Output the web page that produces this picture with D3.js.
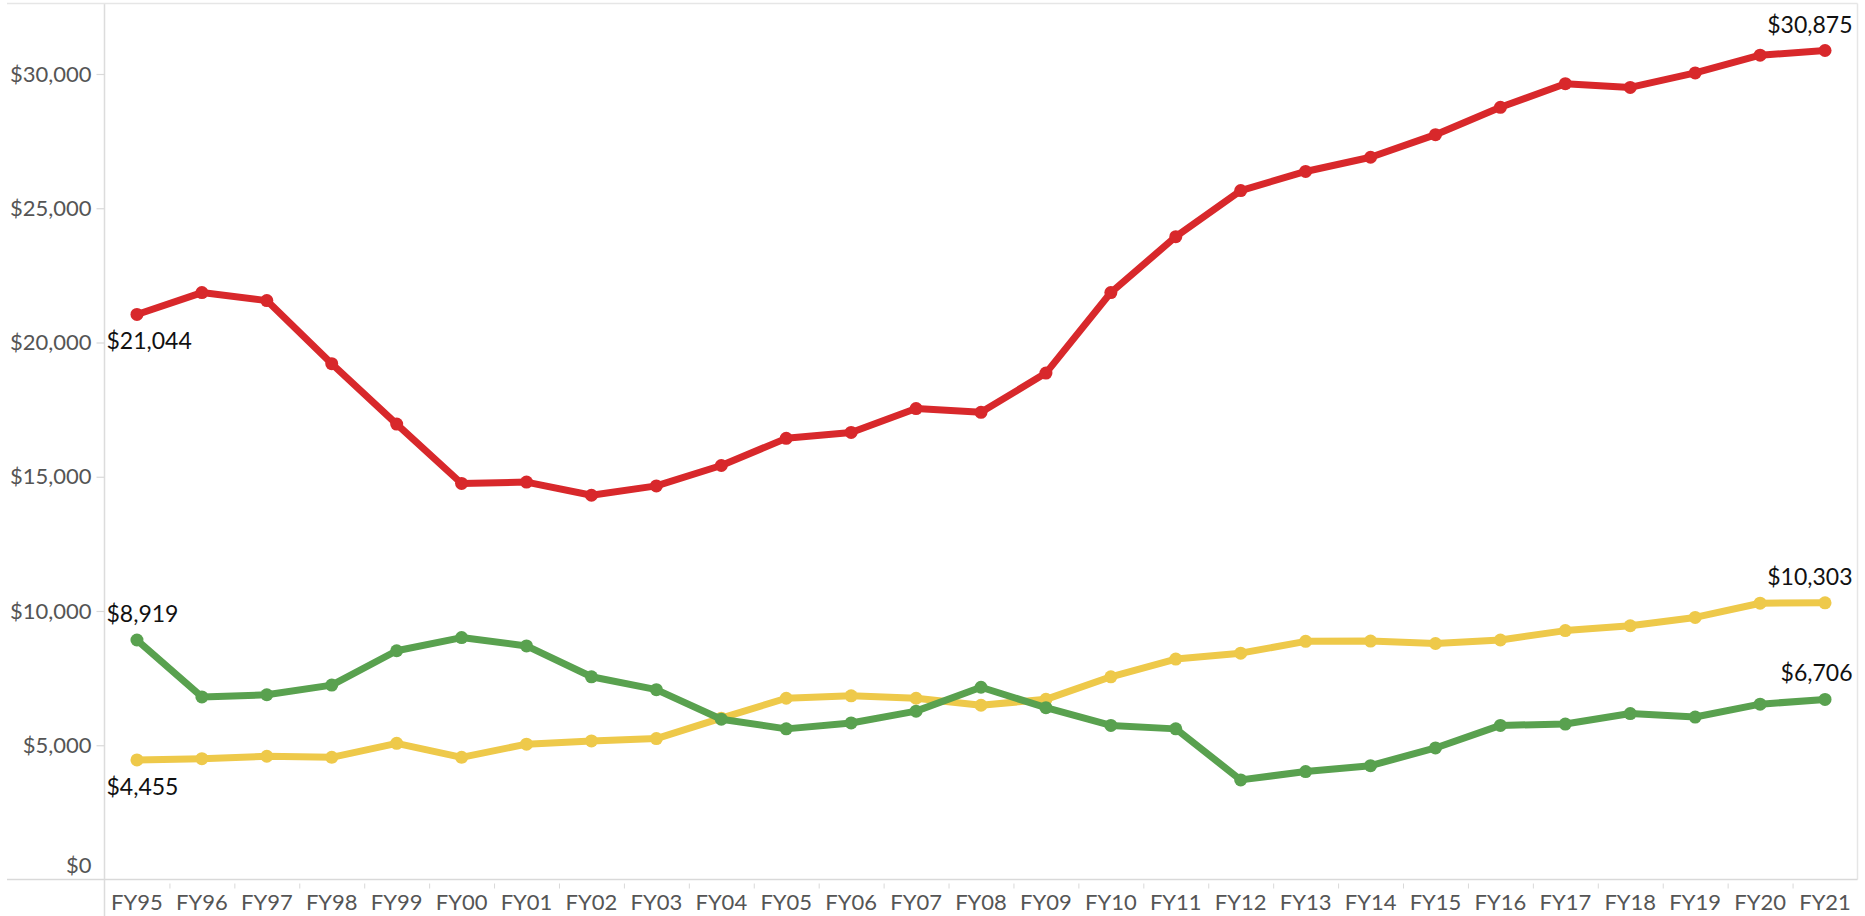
<!DOCTYPE html>
<html>
<head>
<meta charset="utf-8">
<script src="https://cdn.jsdelivr.net/npm/d3@7"></script>
<style>
  html, body { margin: 0; padding: 0; background: #fff; }
  svg { display: block; }
</style>
</head>
<body>
<svg id="chart" width="1865" height="916"></svg>
<script>
const years = ["FY95","FY96","FY97","FY98","FY99","FY00","FY01","FY02","FY03","FY04","FY05","FY06","FY07","FY08","FY09","FY10","FY11","FY12","FY13","FY14","FY15","FY16","FY17","FY18","FY19","FY20","FY21"];
const redValues = [21044,21860,21560,19210,16960,14750,14800,14310,14660,15420,16430,16650,17540,17400,18860,21860,23940,25660,26370,26900,27740,28760,29640,29500,30040,30700,30875];
const yellowValues = [4455,4500,4590,4550,5070,4550,5040,5160,5250,6010,6750,6840,6750,6490,6710,7550,8210,8430,8870,8880,8790,8920,9270,9450,9760,10290,10303];
const greenValues = [8919,6800,6880,7240,8520,9010,8700,7550,7070,5970,5610,5830,6270,7160,6400,5740,5610,3710,4020,4240,4900,5740,5790,6180,6050,6530,6706];
const yTicks = [0,5000,10000,15000,20000,25000,30000];
const series = [
  {name: "red", values: redValues, color: "#d8282b", labels: [{i: 0, pos: "below"}, {i: 26, pos: "above"}]},
  {name: "yellow", values: yellowValues, color: "#eec94a", labels: [{i: 0, pos: "below"}, {i: 26, pos: "above"}]},
  {name: "green", values: greenValues, color: "#59a14f", labels: [{i: 0, pos: "above"}, {i: 26, pos: "above"}]}
];

const svg = d3.select("#chart");
const mLeft = 104.5, mRight = 1857.5, mTop = 3.5, mBottom = 879.5;
const font = "Lato, 'Open Sans', sans-serif";

const x = d3.scaleBand().domain(years).range([mLeft, mRight]).padding(0);
// $0 at mBottom, $30,000 at y=74
const yTop = 30000 * (mBottom - mTop) / (mBottom - 74);
const y = d3.scaleLinear().domain([0, yTop]).range([mBottom, mTop]);

// frame
svg.append("line").attr("x1", mLeft).attr("x2", mLeft).attr("y1", mTop).attr("y2", 916).attr("stroke", "#dcdcdc").attr("stroke-width", 1.5);
svg.append("line").attr("x1", 7).attr("x2", mRight).attr("y1", mTop).attr("y2", mTop).attr("stroke", "#e6e6e6").attr("stroke-width", 1.5);
svg.append("line").attr("x1", mRight).attr("x2", mRight).attr("y1", mTop).attr("y2", mBottom).attr("stroke", "#e6e6e6").attr("stroke-width", 1.5);
svg.append("line").attr("x1", 7).attr("x2", mRight).attr("y1", mBottom).attr("y2", mBottom).attr("stroke", "#d9d9d9").attr("stroke-width", 1.5);

// y axis
const yAxis = d3.axisLeft(y).tickValues(yTicks).tickSize(8).tickPadding(4)
  .tickFormat(d => "$" + d3.format(",")(d));
const gy = svg.append("g").attr("transform", `translate(${mLeft},0)`).call(yAxis);
gy.select(".domain").remove();
gy.selectAll(".tick line").attr("stroke", "#d9d9d9").attr("stroke-width", 1.2);
gy.selectAll(".tick text").attr("fill", "#555").style("font-family", font).style("font-size", "22px").attr("x", -13);
gy.selectAll(".tick").filter(d => d === 0).select("text").attr("dy", "-0.3em");
gy.selectAll(".tick").filter(d => d === 0).select("line").remove();

// x axis
const xAxis = d3.axisBottom(x).tickSize(0).tickPadding(15);
const gx = svg.append("g").attr("transform", `translate(0,${mBottom})`).call(xAxis);
gx.select(".domain").remove();
gx.selectAll(".tick text").attr("fill", "#555").style("font-family", font).style("font-size", "22px");
gx.selectAll(".sep").data(years.slice(1)).enter().append("line")
  .attr("x1", d => x(d) + 0.5).attr("x2", d => x(d) + 0.5)
  .attr("y1", 4).attr("y2", 9).attr("stroke", "#d9d9d9").attr("stroke-width", 1);

// lines
const line = d3.line().x((d, i) => x(years[i]) + x.bandwidth() / 2).y(d => y(d));
series.forEach(s => {
  svg.append("path").datum(s.values).attr("d", line)
    .attr("fill", "none").attr("stroke", s.color).attr("stroke-width", 7)
    .attr("stroke-linejoin", "round").attr("stroke-linecap", "round");
  svg.selectAll(".pt-" + s.name).data(s.values).enter().append("circle")
    .attr("class", "pt-" + s.name)
    .attr("cx", (d, i) => x(years[i]) + x.bandwidth() / 2)
    .attr("cy", d => y(d)).attr("r", 6.5).attr("fill", s.color);
});

// labels
series.forEach(s => {
  s.labels.forEach(l => {
    const v = s.values[l.i];
    const cx = x(years[l.i]) + x.bandwidth() / 2;
    const cy = y(v);
    const t = svg.append("text").text("$" + d3.format(",")(v))
      .style("font-family", font).style("font-size", "23px").attr("fill", "#111")
      .attr("y", l.pos === "above" ? cy - 18 : cy + 35);
    const w = t.node().getComputedTextLength();
    let lx = cx - w / 2;
    lx = Math.max(mLeft + 2, Math.min(mRight - 5 - w, lx));
    t.attr("x", lx);
  });
});
</script>
</body>
</html>
